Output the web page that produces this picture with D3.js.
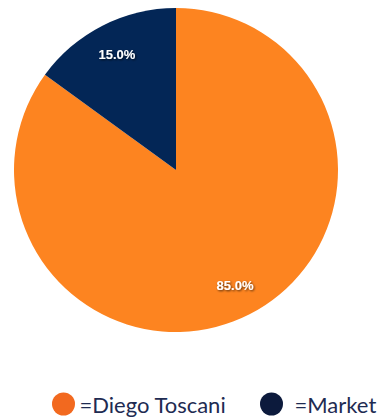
<!DOCTYPE html>
<html>
<head>
<meta charset="utf-8">
<script src="https://cdn.jsdelivr.net/npm/d3@7"></script>
<style>
  body { margin: 0; background: #fff; }
  .pct { font-family: "Liberation Sans", Arial, sans-serif; font-weight: bold; font-size: 13px; fill: #fff; }
  .legend text { font-family: Lato, "Open Sans", sans-serif; font-size: 22px; fill: #1e2b52; }
</style>
</head>
<body>
<div id="chart"></div>
<script>
const categories = ['Diego Toscani', 'Market']
const values = [85, 15]
const sliceColors = ['#fd8420', '#032656']
const legendColors = ['#f2691f', '#0c1a3c']

const width = 377
const height = 419
const cx = 176
const cy = 170
const radius = 162

const svg = d3.select('#chart')
  .append('svg')
  .attr('width', width)
  .attr('height', height)

const defs = svg.append('defs')
defs.append('filter')
    .attr('id', 'shadow')
    .attr('x', '-20%').attr('y', '-40%')
    .attr('width', '140%').attr('height', '180%')
  .append('feDropShadow')
    .attr('dx', 1).attr('dy', 1)
    .attr('stdDeviation', 0.8)
    .attr('flood-color', '#000')
    .attr('flood-opacity', 0.7)

const pie = d3.pie().sort(null).value(d => d)
const arcs = pie(values)

const arc = d3.arc().innerRadius(0).outerRadius(radius)
const labelArc = d3.arc().innerRadius(130).outerRadius(130)

const g = svg.append('g').attr('transform', `translate(${cx},${cy})`)

g.selectAll('path')
  .data(arcs)
  .join('path')
    .attr('d', arc)
    .attr('fill', (d, i) => sliceColors[i])

g.selectAll('text')
  .data(arcs)
  .join('text')
    .attr('class', 'pct')
    .attr('transform', d => `translate(${labelArc.centroid(d)})`)
    .attr('text-anchor', 'middle')
    .attr('dy', '0.35em')
    .attr('filter', 'url(#shadow)')
    .text(d => d3.format('.1f')(d.data) + '%')

// legend
const legendX = [63.5, 271.5]
const legend = svg.append('g').attr('class', 'legend')
const item = legend.selectAll('g')
  .data(categories)
  .join('g')
    .attr('transform', (d, i) => `translate(${legendX[i]},404)`)

item.append('circle')
  .attr('r', 11.5)
  .attr('fill', (d, i) => legendColors[i])

item.append('text')
  .attr('x', (d, i) => i === 0 ? 16 : 23)
  .attr('y', 1)
  .attr('dy', '0.35em')
  .text(d => '=' + d)
</script>
</body>
</html>
